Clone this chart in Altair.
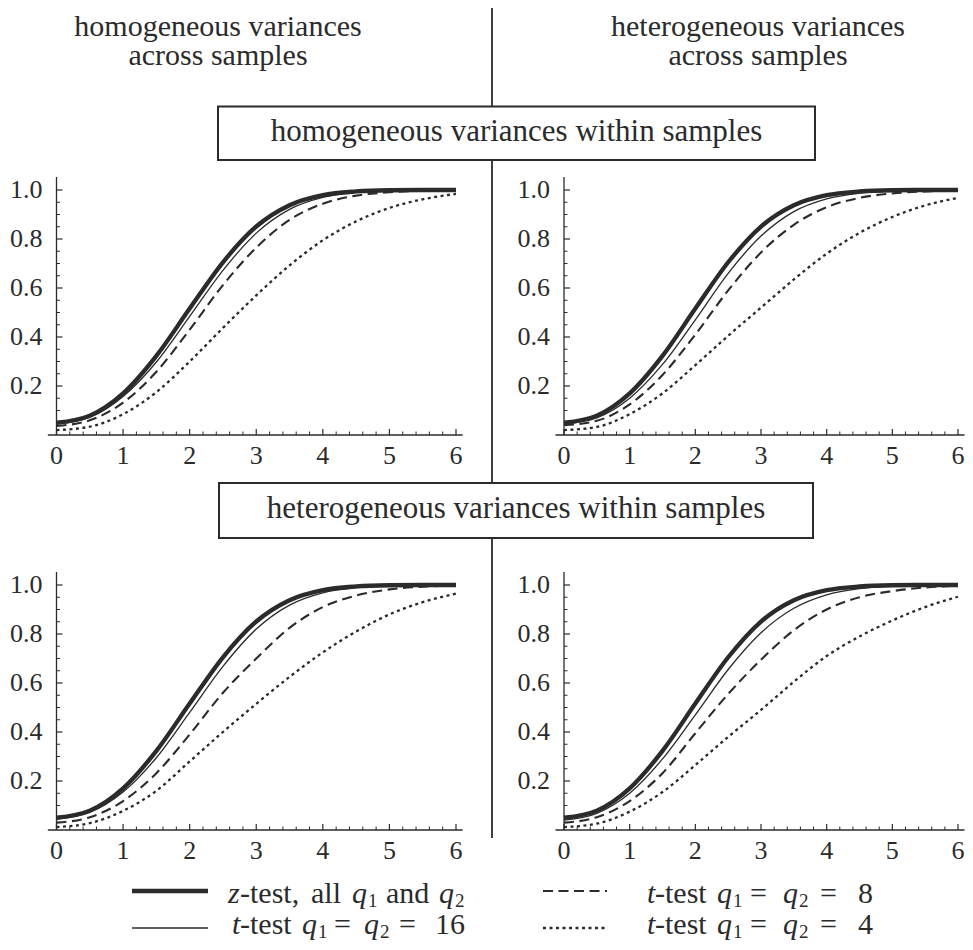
import altair as alt
import pandas as pd

# ---------------- data ----------------
x_vals = [0.0, 0.5, 1.0, 1.5, 2.0, 2.5, 3.0, 3.5, 4.0, 4.5, 5.0, 5.5, 6.0]

# z-test, identical in every panel
z_test = [0.050, 0.079, 0.170, 0.323, 0.516, 0.705, 0.851, 0.938, 0.979, 0.994, 0.999, 1.000, 1.000]

# top-left: homogeneous across / homogeneous within
tl_t16 = [0.045, 0.072, 0.157, 0.298, 0.484, 0.672, 0.824, 0.921, 0.970, 0.990, 0.997, 0.999, 1.000]
tl_t8 = [0.037, 0.060, 0.132, 0.258, 0.430, 0.612, 0.765, 0.878, 0.944, 0.977, 0.991, 0.997, 0.999]
tl_t4 = [0.020, 0.034, 0.085, 0.175, 0.300, 0.437, 0.570, 0.692, 0.795, 0.872, 0.927, 0.962, 0.984]

# top-right: heterogeneous across / homogeneous within
tr_t16 = [0.045, 0.070, 0.150, 0.288, 0.470, 0.660, 0.812, 0.912, 0.964, 0.987, 0.996, 0.999, 1.000]
tr_t8 = [0.040, 0.058, 0.125, 0.245, 0.410, 0.590, 0.745, 0.858, 0.930, 0.968, 0.986, 0.994, 0.998]
tr_t4 = [0.020, 0.033, 0.085, 0.170, 0.285, 0.405, 0.520, 0.635, 0.740, 0.825, 0.890, 0.937, 0.968]

# bottom-left: homogeneous across / heterogeneous within
bl_t16 = [0.045, 0.072, 0.155, 0.295, 0.480, 0.668, 0.820, 0.918, 0.968, 0.989, 0.997, 0.999, 1.000]
bl_t8 = [0.030, 0.052, 0.118, 0.232, 0.390, 0.560, 0.700, 0.825, 0.910, 0.957, 0.982, 0.993, 0.998]
bl_t4 = [0.012, 0.028, 0.078, 0.160, 0.280, 0.400, 0.515, 0.625, 0.725, 0.810, 0.880, 0.930, 0.965]

# bottom-right: heterogeneous across / heterogeneous within
br_t16 = [0.040, 0.068, 0.150, 0.290, 0.470, 0.655, 0.805, 0.905, 0.960, 0.985, 0.995, 0.999, 1.000]
br_t8 = [0.030, 0.052, 0.118, 0.232, 0.395, 0.555, 0.695, 0.815, 0.900, 0.950, 0.975, 0.990, 0.997]
br_t4 = [0.012, 0.026, 0.075, 0.155, 0.265, 0.380, 0.490, 0.605, 0.710, 0.790, 0.855, 0.910, 0.952]

x_tick_values = [0, 1, 2, 3, 4, 5, 6]
x_tick_labels = ["0", "1", "2", "3", "4", "5", "6"]
y_tick_values = [0.2, 0.4, 0.6, 0.8, 1.0]
y_tick_labels = ["0.2", "0.4", "0.6", "0.8", "1.0"]
x_minor_values = [round(i * 0.2, 1) for i in range(31) if i % 5]
y_minor_values = [round(i * 0.05, 2) for i in range(1, 21) if i % 4]

header_left = ["homogeneous variances", "across samples"]
header_right = ["heterogeneous variances", "across samples"]
box_top_text = "homogeneous variances within samples"
box_bottom_text = "heterogeneous variances within samples"

# ---------------- styling / layout ----------------
FONT = "Liberation Serif"
INK = "#2b2b2b"
M = 8  # page margin: page coordinate -> chart coordinate


def P(v):
    return v - M


one = pd.DataFrame({"k": [0]})

panels = [
    dict(t16=tl_t16, t8=tl_t8, t4=tl_t4, x0=56.5, x6=456, y0=435, y1=190),
    dict(t16=tr_t16, t8=tr_t8, t4=tr_t4, x0=564, x6=958, y0=435, y1=190),
    dict(t16=bl_t16, t8=bl_t8, t4=bl_t4, x0=56.5, x6=456, y0=830, y1=585),
    dict(t16=br_t16, t8=br_t8, t4=br_t4, x0=564, x6=958, y0=830, y1=585),
]

styles = {
    "t4": dict(strokeWidth=2.3, strokeDash=[3, 3.5]),
    "t8": dict(strokeWidth=2.1, strokeDash=[10, 5.5]),
    "t16": dict(strokeWidth=1.3),
    "z": dict(strokeWidth=4.3),
}

layers = []

for p in panels:
    xs = alt.Scale(domain=[0, 6], range=[P(p["x0"]), P(p["x6"])], nice=False, zero=False)
    ys = alt.Scale(domain=[0, 1], range=[P(p["y0"]), P(p["y1"])], nice=False, zero=False)
    df = pd.DataFrame({"x": x_vals, "z": z_test, "t16": p["t16"], "t8": p["t8"], "t4": p["t4"]})

    # axis lines
    layers.append(
        alt.Chart(one).mark_rule(color=INK, strokeWidth=1.3).encode(
            x=alt.XDatum(-0.13, scale=xs, axis=None),
            x2=alt.X2Datum(6.1),
            y=alt.YDatum(0, scale=ys, axis=None),
        )
    )
    layers.append(
        alt.Chart(one).mark_rule(color=INK, strokeWidth=1.3).encode(
            x=alt.XDatum(0, scale=xs, axis=None),
            y=alt.YDatum(0, scale=ys, axis=None),
            y2=alt.Y2Datum(1.053),
        )
    )
    # x ticks (inward)
    layers.append(
        alt.Chart(pd.DataFrame({"v": x_tick_values}))
        .mark_tick(orient="vertical", size=6, thickness=1.2, yOffset=-3, color=INK, opacity=1)
        .encode(x=alt.X("v:Q", scale=xs, axis=None), y=alt.YDatum(0, scale=ys, axis=None))
    )
    layers.append(
        alt.Chart(pd.DataFrame({"v": x_minor_values}))
        .mark_tick(orient="vertical", size=3.5, thickness=1.0, yOffset=-1.75, color=INK, opacity=1)
        .encode(x=alt.X("v:Q", scale=xs, axis=None), y=alt.YDatum(0, scale=ys, axis=None))
    )
    # y ticks (inward)
    layers.append(
        alt.Chart(pd.DataFrame({"v": y_tick_values}))
        .mark_tick(orient="horizontal", size=6, thickness=1.2, xOffset=3, color=INK, opacity=1)
        .encode(y=alt.Y("v:Q", scale=ys, axis=None), x=alt.XDatum(0, scale=xs, axis=None))
    )
    layers.append(
        alt.Chart(pd.DataFrame({"v": y_minor_values}))
        .mark_tick(orient="horizontal", size=3.5, thickness=1.0, xOffset=1.75, color=INK, opacity=1)
        .encode(y=alt.Y("v:Q", scale=ys, axis=None), x=alt.XDatum(0, scale=xs, axis=None))
    )
    # tick labels
    layers.append(
        alt.Chart(pd.DataFrame({"v": x_tick_values, "label": x_tick_labels}))
        .mark_text(font=FONT, fontSize=26, color=INK, align="center", baseline="middle", dy=21)
        .encode(x=alt.X("v:Q", scale=xs, axis=None), y=alt.YDatum(0, scale=ys, axis=None), text="label:N")
    )
    layers.append(
        alt.Chart(pd.DataFrame({"v": y_tick_values, "label": y_tick_labels}))
        .mark_text(font=FONT, fontSize=26, color=INK, align="right", baseline="middle", dx=-14)
        .encode(y=alt.Y("v:Q", scale=ys, axis=None), x=alt.XDatum(0, scale=xs, axis=None), text="label:N")
    )
    # curves
    for key in ["t4", "t8", "t16", "z"]:
        layers.append(
            alt.Chart(df)
            .mark_line(interpolate="monotone", color=INK, strokeCap="butt", **styles[key])
            .encode(x=alt.X("x:Q", scale=xs, axis=None), y=alt.Y(f"{key}:Q", scale=ys, axis=None))
        )


def text(s, x, y, size, italic=False, align="left"):
    return alt.Chart(one).mark_text(
        text=s, font=FONT, fontSize=size, fontStyle="italic" if italic else "normal",
        align=align, baseline="alphabetic", color=INK,
    ).encode(x=alt.value(P(x)), y=alt.value(P(y)))


def rule(x1, y1, x2, y2, **kw):
    return alt.Chart(one).mark_rule(color=INK, **kw).encode(
        x=alt.value(P(x1)), y=alt.value(P(y1)), x2=alt.value(P(x2)), y2=alt.value(P(y2))
    )


# divider
layers.append(rule(492, 8, 492, 106, strokeWidth=1.8))
layers.append(rule(492, 160, 492, 483, strokeWidth=1.8))
layers.append(rule(492, 538, 492, 838, strokeWidth=1.8))

# column headers
layers.append(text(header_left[0], 218, 35.5, 30, align="center"))
layers.append(text(header_left[1], 218, 65, 30, align="center"))
layers.append(text(header_right[0], 758, 35.5, 30, align="center"))
layers.append(text(header_right[1], 758, 65, 30, align="center"))

# row boxes
for (bx1, by1, bx2, by2, label, base) in [
    (218, 106.5, 815, 160, box_top_text, 141),
    (219, 483, 813, 538, box_bottom_text, 518),
]:
    layers.append(
        alt.Chart(one).mark_rect(fill="white", stroke=INK, strokeWidth=2).encode(
            x=alt.value(P(bx1)), x2=alt.value(P(bx2)), y=alt.value(P(by1)), y2=alt.value(P(by2))
        )
    )
    layers.append(text(label, (bx1 + bx2) / 2, base, 31, align="center"))

# legend samples
layers.append(rule(132, 891, 208, 891, strokeWidth=4.3))
layers.append(rule(132, 928, 208, 928, strokeWidth=1.3))
layers.append(rule(543, 891, 607, 891, strokeWidth=2.1, strokeDash=[10, 5.5]))
layers.append(rule(543, 928, 607, 928, strokeWidth=2.3, strokeDash=[3, 3.5]))

LS, SS = 30, 19
R1, R2 = 903, 934
SUB = 3.5
legend_pieces = [
    # row 1 left
    ("z", 228, R1, LS, True), ("-test,", 240, R1, LS, False), ("all", 311, R1, LS, False),
    ("q", 352, R1, LS, True), ("1", 368, R1 + SUB, SS, False), ("and", 386, R1, LS, False),
    ("q", 439, R1, LS, True), ("2", 455, R1 + SUB, SS, False),
    # row 2 left
    ("t", 232, R2, LS, True), ("-test", 240, R2, LS, False), ("q", 302, R2, LS, True),
    ("1", 318, R2 + SUB, SS, False), ("=", 334, R2, LS, False), ("q", 364, R2, LS, True),
    ("2", 380, R2 + SUB, SS, False), ("=", 399, R2, LS, False), ("16", 435, R2, LS, False),
    # row 1 right
    ("t", 647, R1, LS, True), ("-test", 655, R1, LS, False), ("q", 717, R1, LS, True),
    ("1", 733, R1 + SUB, SS, False), ("=", 750, R1, LS, False), ("q", 783, R1, LS, True),
    ("2", 799, R1 + SUB, SS, False), ("=", 820, R1, LS, False), ("8", 858, R1, LS, False),
    # row 2 right
    ("t", 647, R2, LS, True), ("-test", 655, R2, LS, False), ("q", 717, R2, LS, True),
    ("1", 733, R2 + SUB, SS, False), ("=", 750, R2, LS, False), ("q", 783, R2, LS, True),
    ("2", 799, R2 + SUB, SS, False), ("=", 820, R2, LS, False), ("4", 858, R2, LS, False),
]
for s, x, y, size, it in legend_pieces:
    layers.append(text(s, x, y, size, italic=it))

chart = (
    alt.layer(*layers)
    .resolve_scale(x="independent", y="independent")
    .properties(width=957, height=934, padding=0, autosize="none", background="white")
    .configure_view(stroke=None)
)

chart.save("out.html", embed_options={"renderer": "svg", "actions": False})
